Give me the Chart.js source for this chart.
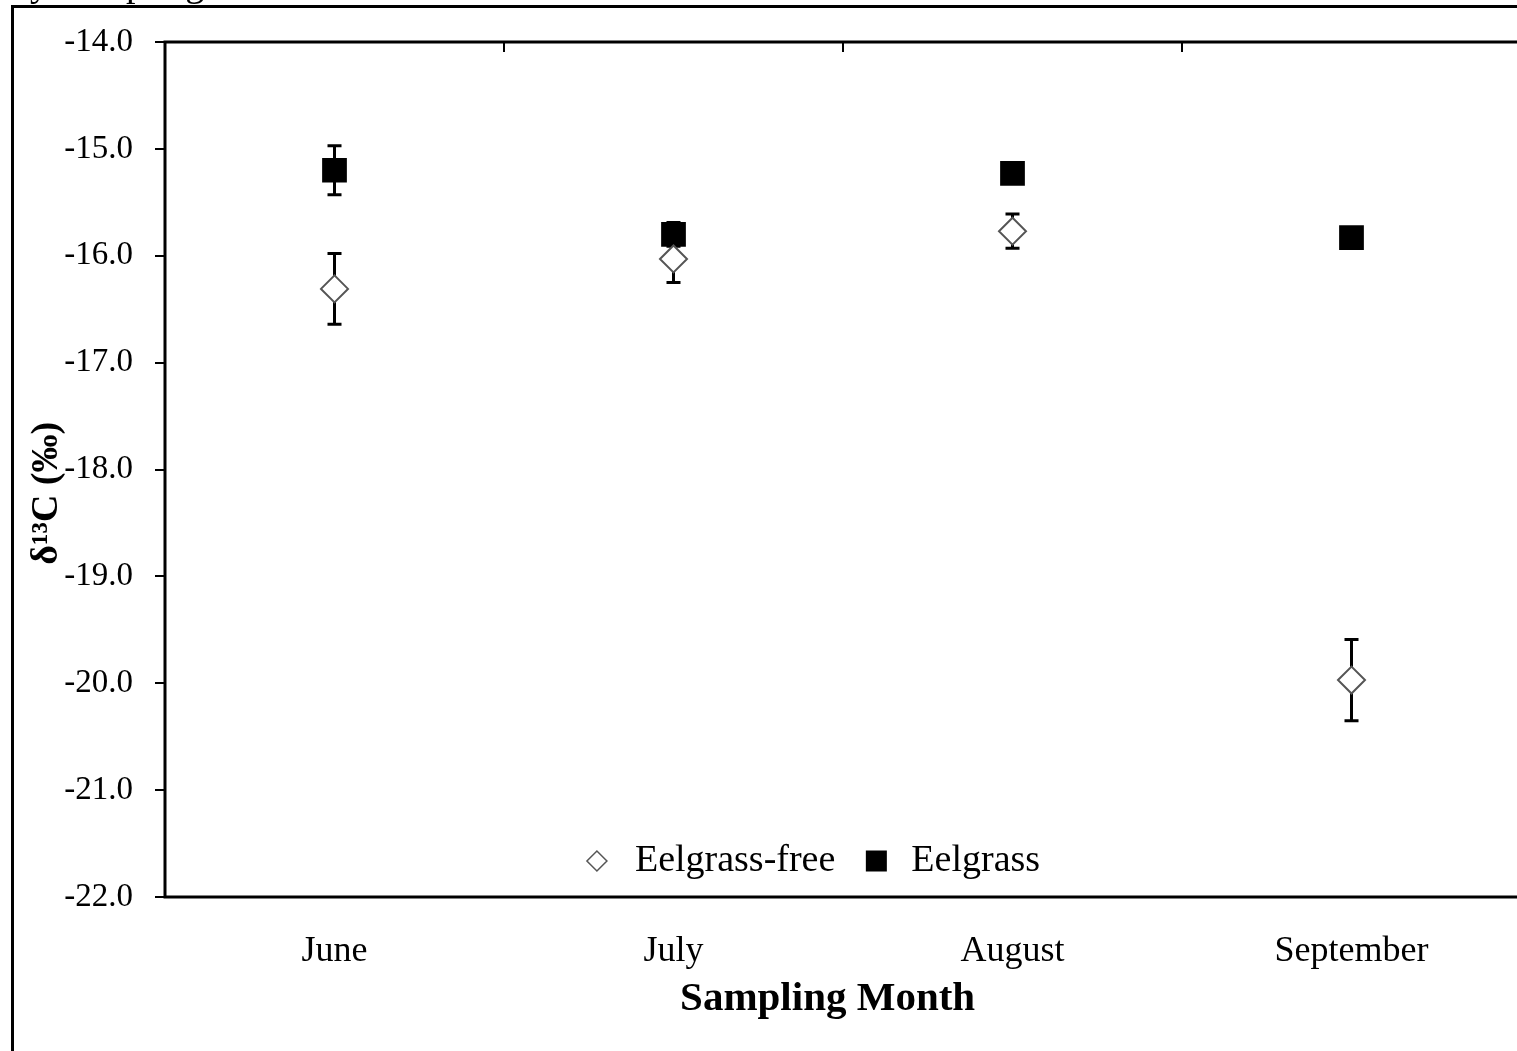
<!DOCTYPE html>
<html>
<head>
<meta charset="utf-8">
<script src="https://cdn.jsdelivr.net/npm/chart.js@4.4.0/dist/chart.umd.min.js"></script>
<style>
  html, body { margin: 0; padding: 0; overflow: hidden; background: #fff; }
  #wrap { position: relative; width: 1560px; height: 1051px; }
  #frame { position: absolute; left: 11px; top: 5px; width: 1600px; height: 1100px;
           border: 3px solid #000; pointer-events: none; }
  #cap { position: absolute; left: 11px; top: -36px; font: 38px "Liberation Serif", serif;
         line-height: 38px; white-space: nowrap; }
</style>
</head>
<body>
<div id="wrap">
  <div id="cap">by Sampling Month</div>
  <canvas id="isoChart"></canvas>
  <div id="frame"></div>
</div>
<script>
// data
const months = ['June', 'July', 'August', 'September'];
const freeMean = [-16.31, -16.03, -15.77, -19.97];
const freeErr = [0.33, 0.22, 0.16, 0.38];
const eelMean = [-15.20, -15.80, -15.23, -15.83];
const eelErr = [0.23, 0.11, 0.05, 0.05];
const yMin = -22;
const yMax = -14;

const serif = '"Liberation Serif", "Times New Roman", serif';

//draws error bars, plot frame, top ticks and the legend
const extras = {
    id: 'extras',
    beforeDatasetsDraw(chart) {
        const ctx = chart.ctx;
        const x = chart.scales.x, y = chart.scales.y;
        ctx.save();
        ctx.strokeStyle = '#000';
        ctx.lineWidth = 3;
        chart.data.datasets.forEach(function(ds) {
            ds.data.forEach(function(v, i) {
                let e = ds.errors[i];
                let px = x.getPixelForValue(i);
                let top = y.getPixelForValue(v + e);
                let bot = y.getPixelForValue(v - e);
                ctx.beginPath();
                ctx.moveTo(px, top); ctx.lineTo(px, bot);
                ctx.moveTo(px - 7, top); ctx.lineTo(px + 7, top);
                ctx.moveTo(px - 7, bot); ctx.lineTo(px + 7, bot);
                ctx.stroke();
            });
        });
        ctx.restore();
    },
    afterDraw(chart) {
        const ctx = chart.ctx;
        const a = chart.chartArea;
        const x = chart.scales.x;
        ctx.save();
        ctx.strokeStyle = '#000';
        ctx.lineWidth = 3;
        ctx.strokeRect(a.left, a.top, a.right - a.left, a.bottom - a.top);

        //inside ticks on the top edge between months
        ctx.lineWidth = 2;
        let half = (x.getPixelForValue(1) - x.getPixelForValue(0)) / 2;
        for (let i = 0; i < months.length - 1; i++) {
            let px = Math.round(x.getPixelForValue(i) + half);
            ctx.beginPath();
            ctx.moveTo(px, a.top);
            ctx.lineTo(px, a.top + 10);
            ctx.stroke();
        }

        //legend inside the plot, bottom centre
        ctx.font = '38px ' + serif;
        ctx.textBaseline = 'middle';
        ctx.fillStyle = '#000';
        let ds = chart.data.datasets;
        let w1 = ctx.measureText(ds[0].label).width;
        let w2 = ctx.measureText(ds[1].label).width;
        let total = 11 + 38 + w1 + 41 + 35 + w2;
        let cx = (a.left + a.right) / 2 - 30;
        let ly = a.bottom - 36;
        let x0 = cx - total / 2 + 11;

        ctx.beginPath();
        ctx.moveTo(x0 - 10, ly); ctx.lineTo(x0, ly - 10);
        ctx.lineTo(x0 + 10, ly); ctx.lineTo(x0, ly + 10);
        ctx.closePath();
        ctx.fillStyle = '#fff'; ctx.fill();
        ctx.strokeStyle = '#555'; ctx.lineWidth = 1.5; ctx.stroke();
        ctx.fillStyle = '#000';
        ctx.fillText(ds[0].label, x0 + 38, ly);

        let sx = x0 + 38 + w1 + 41;
        ctx.fillRect(sx - 10.5, ly - 10.5, 21, 21);
        ctx.fillText(ds[1].label, sx + 35, ly);
        ctx.restore();
    }
};

let isoCtx = document.getElementById('isoChart');

new Chart(isoCtx, {
    type: 'line',
    data: {
        labels: months,
        datasets: [{
            label: 'Eelgrass-free',
            data: freeMean,
            errors: freeErr,
            showLine: false,
            pointStyle: 'rectRot',
            pointRadius: 13.5,
            pointBackgroundColor: '#fff',
            pointBorderColor: '#555',
            pointBorderWidth: 2
        }, {
            label: 'Eelgrass',
            data: eelMean,
            errors: eelErr,
            showLine: false,
            pointStyle: 'rect',
            pointRadius: 17.5,
            pointBackgroundColor: '#000',
            pointBorderColor: '#000',
            pointBorderWidth: 0
        }]
    },
    options: {
        responsive: true,
        maintainAspectRatio: false,
        animation: false,
        layout: {
            padding: { top: 42, right: 39, left: 0, bottom: 0 }
        },
        plugins: {
            legend: { display: false },
            tooltip: { enabled: false }
        },
        scales: {
            x: {
                type: 'category',
                offset: true,
                afterFit: function(scale) { scale.height = 154; },
                grid: { display: false, drawTicks: false },
                border: { display: false },
                ticks: {
                    color: '#000',
                    padding: 33,
                    font: { family: serif, size: 36 }
                },
                title: {
                    display: true,
                    text: 'Sampling Month\u00A0\u00A0\u00A0',
                    color: '#000',
                    padding: { top: 0, bottom: 27 },
                    font: { family: serif, size: 41, weight: 'bold' }
                }
            },
            y: {
                min: yMin,
                max: yMax,
                afterFit: function(scale) { scale.width = 165; },
                grid: {
                    drawOnChartArea: false,
                    tickLength: 10,
                    color: '#000',
                    lineWidth: 2
                },
                border: { display: false },
                ticks: {
                    stepSize: 1,
                    color: '#000',
                    padding: 22,
                    font: { family: serif, size: 33 },
                    callback: function(v) { return v.toFixed(1); }
                },
                title: {
                    display: true,
                    text: '\u03B4\u00B9\u00B3C (\u2030)\u00A0\u00A0\u00A0\u00A0\u00A0',
                    color: '#000',
                    padding: { top: 24, bottom: 0 },
                    font: { family: serif, size: 38, weight: 'bold' }
                }
            }
        }
    },
    plugins: [extras]
});
</script>
</body>
</html>
